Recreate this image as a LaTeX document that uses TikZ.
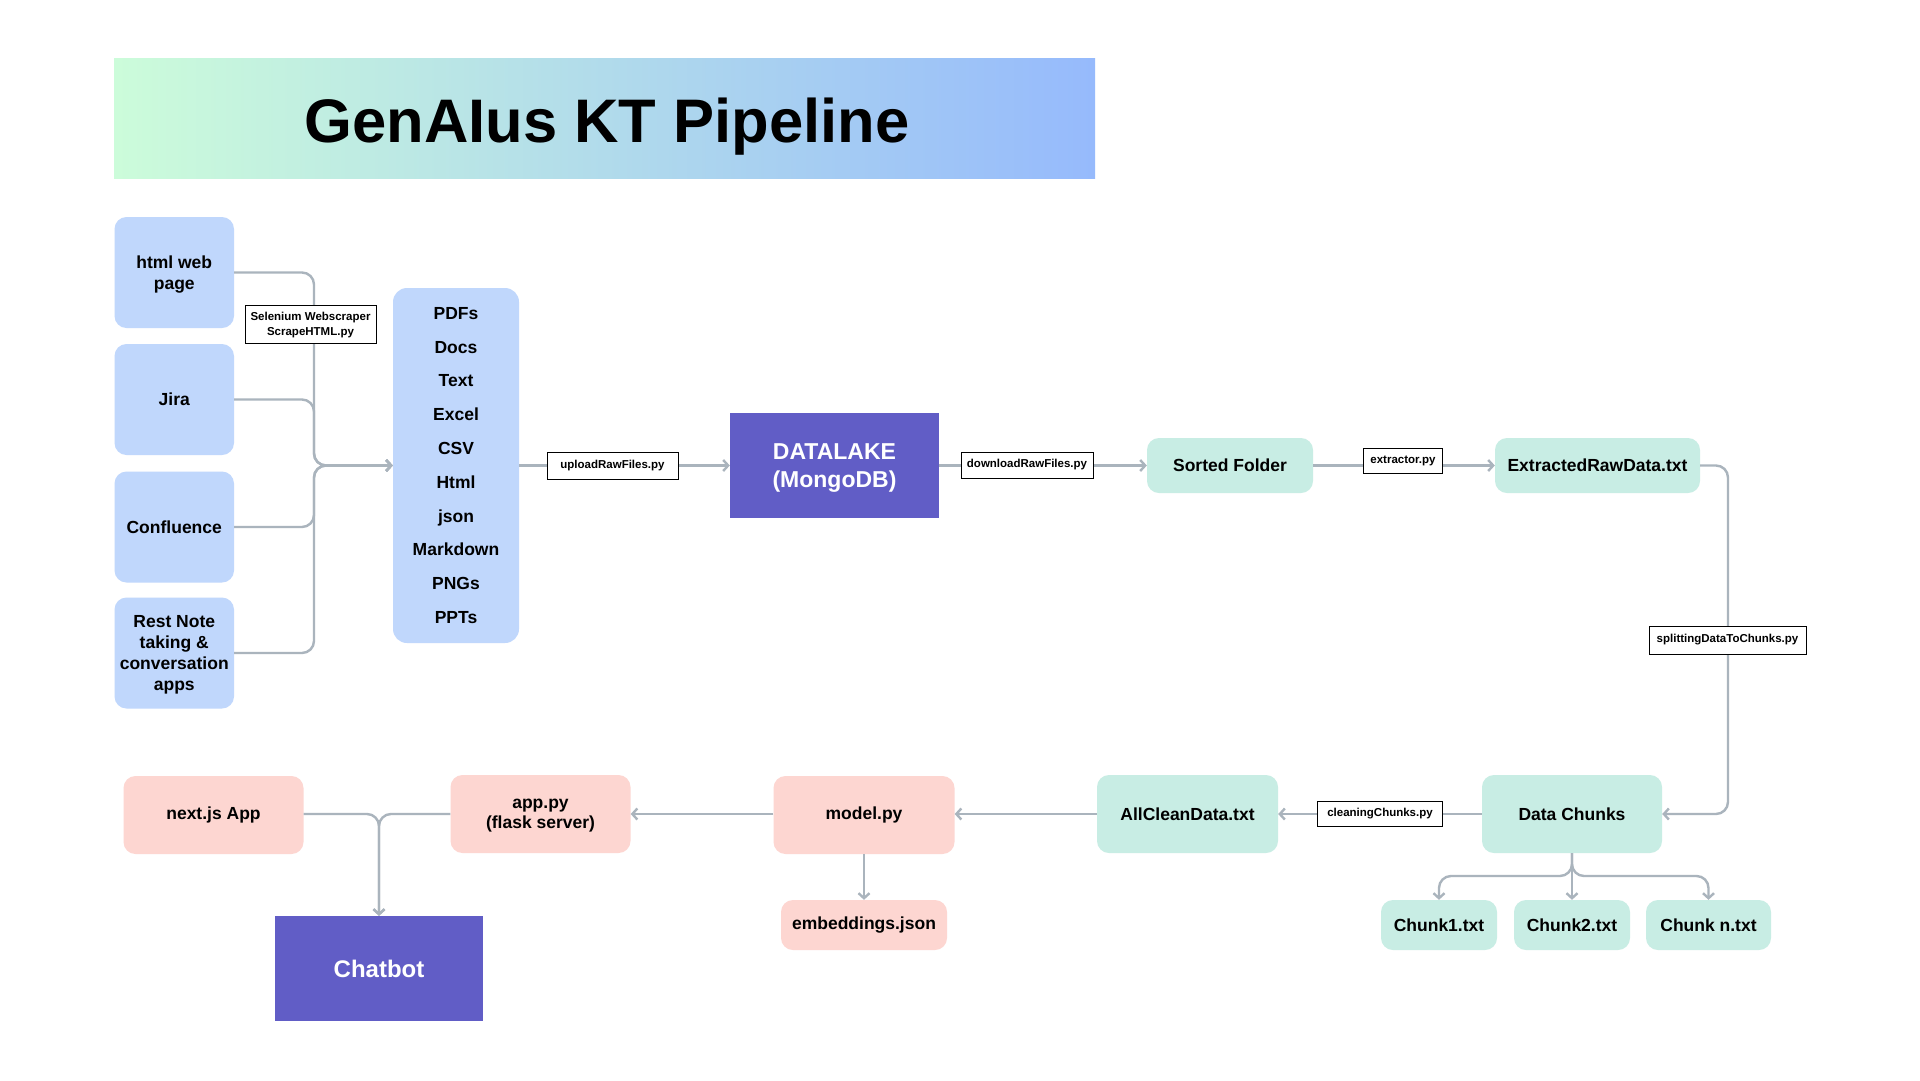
\documentclass[tikz,border=0pt]{standalone}
\usepackage{fontspec}
\setmainfont{Liberation Sans}
\usetikzlibrary{arrows.meta,calc}
\definecolor{bluebox}{RGB}{192,215,252}
\definecolor{mint}{RGB}{200,237,228}
\definecolor{pinkbox}{RGB}{253,214,209}
\definecolor{purp}{RGB}{97,93,198}
\definecolor{conn}{RGB}{170,180,189}
\definecolor{gradL}{RGB}{204,252,218}
\definecolor{gradR}{RGB}{150,186,252}
\begin{document}
\begin{tikzpicture}[x=1pt,y=-1pt,
  box/.style={rounded corners=12pt, inner sep=0pt, align=center, font=\fontsize{17.5}{20.5}\selectfont\bfseries},
  bluen/.style={box, fill=bluebox},
  mintn/.style={box, fill=mint},
  pinkn/.style={box, fill=pinkbox},
  purpn/.style={inner sep=0pt, fill=purp, text=white, align=center, font=\fontsize{23}{28}\selectfont\bfseries},
  lbl/.style={draw=black, line width=0.9pt, fill=white, inner sep=0pt, align=center, font=\fontsize{11.5}{15}\selectfont\bfseries},
  wire/.style={draw=conn, line width=2.4pt, rounded corners=12pt},
  arr/.style={wire, -{Straight Barb[length=5pt,width=11pt]}},
]
\useasboundingbox (0,0) rectangle (1920,1080);
\fill[white] (0,0) rectangle (1920,1080);

% title banner
\node[inner sep=0pt, minimum width=981pt, minimum height=120pt, left color=gradL, right color=gradR] (banner) at (604.5,118) {};
\node[inner sep=0pt, anchor=base, font=\fontsize{61.5}{70}\selectfont\bfseries] (title) at (607,142) {GenAIus KT Pipeline};

% sources
\node[bluen, minimum width=119.5pt, minimum height=111pt, text depth=-1.3pt] (html) at (174.25,272.5) {html web\\page};
\node[bluen, minimum width=119.5pt, minimum height=111pt] (jira) at (174.25,399.5) {Jira};
\node[bluen, minimum width=119.5pt, minimum height=111pt] (conf) at (174.25,527) {Confluence};
\node[bluen, minimum width=119.5pt, minimum height=111pt, text depth=-2.3pt, font=\fontsize{17.5}{20.8}\selectfont\bfseries] (rest) at (174.25,653) {Rest Note\\taking \&\\conversation\\apps};

\node[bluen, rounded corners=14pt, minimum width=126pt, minimum height=355pt, font=\fontsize{17.5}{33.8}\selectfont\bfseries] (list) at (456,465.5)
  {PDFs\\Docs\\Text\\Excel\\CSV\\Html\\json\\Markdown\\PNGs\\PPTs};

\coordinate (mg) at (314,465.5);
\draw[arr] (html.east) -| (mg) -- (list.west);
\draw[arr] (jira.east) -| (mg) -- (list.west);
\draw[arr] (conf.east) -| (mg) -- (list.west);
\draw[arr] (rest.east) -| (mg) -- (list.west);
\node[lbl, minimum width=131pt, minimum height=38pt, text depth=-2.4pt] (sel) at (310.5,324) {Selenium Webscraper\\ScrapeHTML.py};

% datalake row
\node[purpn, minimum width=209pt, minimum height=105pt, text depth=0pt] (dl) at (834.5,465.5) {DATALAKE\\(MongoDB)};
\node[mintn, minimum width=166pt, minimum height=55pt] (sorted) at (1230,465.5) {Sorted Folder};
\node[mintn, minimum width=205pt, minimum height=55pt] (erd) at (1597.5,465.5) {ExtractedRawData.txt};

\draw[arr] (list.east) -- (dl.west);
\draw[arr] (dl.east) -- (sorted.west);
\draw[arr] (sorted.east) -- (erd.west);
\node[lbl, minimum width=131pt, minimum height=27pt] (upl) at (612.5,465.5) {uploadRawFiles.py};
\node[lbl, minimum width=132pt, minimum height=26pt] (dwn) at (1027,465) {downloadRawFiles.py};
\node[lbl, minimum width=78.5pt, minimum height=25pt] (ext) at (1403,460.5) {extractor.py};

% right column
\node[mintn, minimum width=180pt, minimum height=78pt] (dc) at (1572,814) {Data Chunks};
\coordinate (rt) at (1728,465.5);
\coordinate (rb) at (1728,814);
\draw[arr] (erd.east) -- (rt) -- (rb) -- (dc.east);
\node[lbl, minimum width=157pt, minimum height=28pt] (spl) at (1727.5,640) {splittingDataToChunks.py};

% chunks
\node[mintn, minimum width=116pt, minimum height=50pt] (c1) at (1439,925) {Chunk1.txt};
\node[mintn, minimum width=116pt, minimum height=50pt] (c2) at (1572,925) {Chunk2.txt};
\node[mintn, minimum width=125pt, minimum height=50pt] (cn) at (1708.5,925) {Chunk n.txt};
\coordinate (sp) at (1572,876);
\draw[arr] (dc.south) -- (sp) -| (c1.north);
\draw[arr] (dc.south) -- (c2.north);
\draw[arr] (dc.south) -- (sp) -| (cn.north);

% bottom row
\node[mintn, minimum width=181pt, minimum height=78pt] (acd) at (1187.5,814) {AllCleanData.txt};
\node[pinkn, minimum width=181pt, minimum height=78pt] (model) at (864,815) {model.py};
\node[pinkn, minimum width=180pt, minimum height=78pt, text depth=-2.9pt] (app) at (540.5,814) {app.py\\(flask server)};
\node[pinkn, minimum width=180pt, minimum height=78pt] (next) at (213.5,815) {next.js App};
\node[purpn, minimum width=208pt, minimum height=105pt, font=\fontsize{24}{28}\selectfont\bfseries] (chat) at (379,968.5) {Chatbot};
\node[pinkn, minimum width=166pt, minimum height=50pt] (emb) at (864,925) {embeddings.json};

\draw[arr] (dc.west) -- (acd.east);
\node[lbl, minimum width=125pt, minimum height=25pt] (cln) at (1380,813.5) {cleaningChunks.py};
\draw[arr] (acd.west) -- (model.east |- acd.west);
\draw[arr] (model.west |- app.east) -- (app.east);
\draw[arr] (model.south) -- (emb.north);
\draw[arr] (app.west) -| (chat.north);
\draw[arr] (next.east |- app.west) -| (chat.north);
\end{tikzpicture}
\end{document}
